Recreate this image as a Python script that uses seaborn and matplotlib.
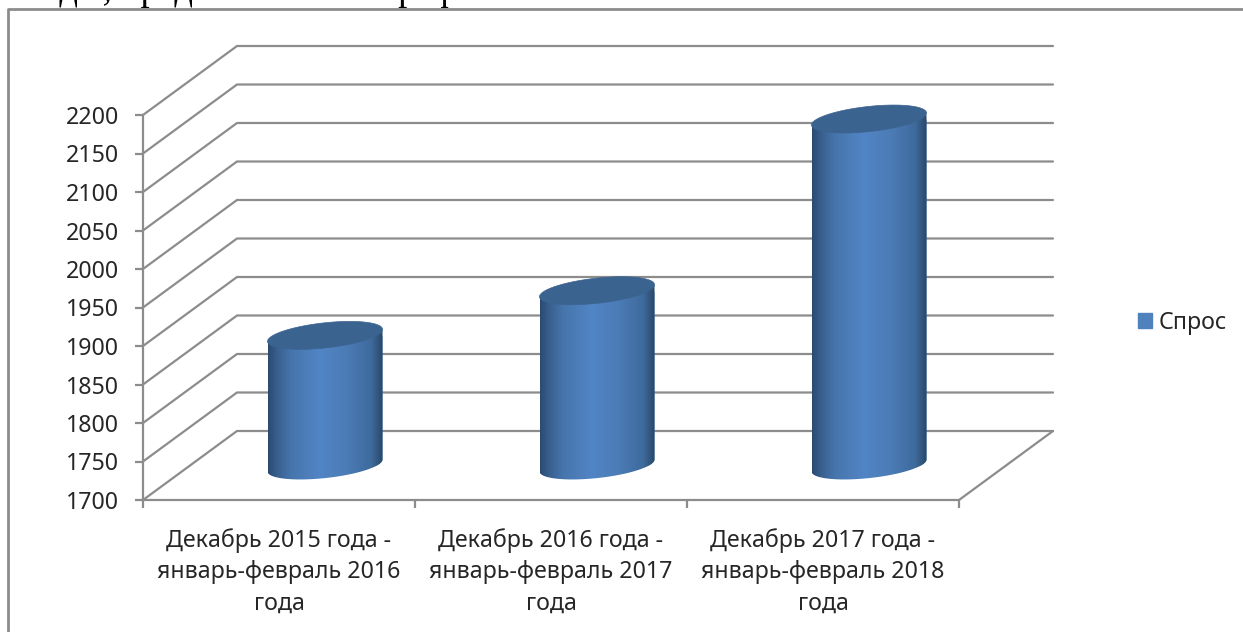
import numpy as np
import pandas as pd
import seaborn as sns
import matplotlib.pyplot as plt
from matplotlib.patches import Patch, PathPatch
from matplotlib.path import Path
from matplotlib.colors import LinearSegmentedColormap
from matplotlib.transforms import Affine2D

periods = ['Декабрь 2015 года -\nянварь-февраль 2016\nгода',
           'Декабрь 2016 года -\nянварь-февраль 2017\nгода',
           'Декабрь 2017 года -\nянварь-февраль 2018\nгода']
demand = [1869, 1927, 2150]
series_name = 'Спрос'
y_ticks = list(range(1700, 2201, 50))
# line of the document above the chart, only its descenders are on the page
cut_text = 'годы, представлена на графике'

GRID = '#8C8C8C'
TEXT = '#262626'
W, H = 1243, 632
# depth of the fake 3d box, in pixels
DX, DY = 94, 69

sns.set_theme(style='white')
plt.rcParams['font.family'] = ['Noto Sans', 'DejaVu Sans']

fig = plt.figure(figsize=(W / 100, H / 100), dpi=100)
ax = fig.add_axes([143 / W, 1 - 500 / H, 816 / W, 385 / H])

df = pd.DataFrame({'period': periods, 'demand': demand})
sns.barplot(data=df, x='period', y='demand', color='#4F81BD', width=115 / 272,
            saturation=1, ax=ax)
ax.set_xlim(-0.5, 2.5)
ax.set_ylim(y_ticks[0], y_ticks[-1])
ax.set_xlabel('')
ax.set_ylabel('')

sns.despine(ax=ax, top=True, right=True)
for s in ['left', 'bottom']:
    ax.spines[s].set_color(GRID)
    ax.spines[s].set_linewidth(1.6)

ax.set_yticks(y_ticks)
ax.tick_params(axis='y', length=5.8, width=1.6, color=GRID, labelsize=16.7,
               labelcolor=TEXT, pad=11.5, left=True)
ax.set_xticks([0, 1, 2], periods, linespacing=1.42)
ax.tick_params(axis='x', which='major', length=0, labelsize=16.7, labelcolor=TEXT, pad=20)
ax.set_xticks([-0.5, 0.5, 1.5, 2.5], minor=True)
ax.tick_params(axis='x', which='minor', length=6, width=1.6, color=GRID, bottom=True)

# walls and floor, in data units so they follow the axes
dx = DX / 272
dy = DY / 0.77
for v in y_ticks:
    ax.plot([-0.5, -0.5 + dx, 2.5 + dx], [v, v + dy, v + dy], color=GRID, lw=1.6,
            clip_on=False, zorder=1, solid_joinstyle='miter')
ax.plot([2.5, 2.5 + dx], [y_ticks[0], y_ticks[0] + dy], color=GRID, lw=1.6,
        clip_on=False, zorder=1)

# cylinders: middle of the depth, bar geometry comes from seaborn
cmap = LinearSegmentedColormap.from_list('cyl', [(0, '#2B4A70'), (0.08, '#38608F'),
                                                 (0.2, '#4675AC'), (0.45, '#5285C6'),
                                                 (0.7, '#4B7BB4'), (0.9, '#3E6A9C'),
                                                 (1, '#2A4767')])
to_px = ax.transData
t = np.linspace(0, 2 * np.pi, 121)
for bar, v in zip(ax.patches, demand):
    bar.set_y(y_ticks[0])
    bar.set_height(v - y_ticks[0])
    bar.set_transform(to_px + Affine2D().translate(DX / 2, DY / 2))
    bar.set_zorder(2)
    x0 = to_px.transform((bar.get_x(), v))[0] + DX / 2 - 1
    x1 = to_px.transform((bar.get_x() + bar.get_width(), v))[0] + DX / 2 - 1
    cx = (x0 + x1) / 2
    a = (x1 - x0) / 2
    ytop = to_px.transform((0, v))[1] + DY / 2
    ybot = to_px.transform((0, y_ticks[0]))[1] + DY / 2
    b, s = 12.6, 6.0
    ex = cx + a * np.cos(t)
    ey = b * np.sin(t) + s * np.cos(t)

    # body: straight sides plus the lower half of the bottom ellipse
    low = np.linspace(np.pi, 2 * np.pi, 60)
    body_x = np.r_[x0, cx + a * np.cos(low), x1]
    body_y = np.r_[ytop - s, ybot + b * np.sin(low) + s * np.cos(low), ytop + s]
    body = PathPatch(Path(np.c_[body_x, body_y]), fc='none', ec='none',
                     zorder=3, clip_on=False)
    body.set_transform(Affine2D())
    ax.add_patch(body)
    bar.set_clip_path(body)

    grad = np.linspace(0, 1, 256).reshape(1, -1)
    im = ax.imshow(grad, cmap=cmap, aspect='auto', zorder=3, interpolation='bilinear',
                   extent=(x0, x1, ybot - 20, ytop + 20), transform=Affine2D())
    im.set_clip_path(body)

    top = PathPatch(Path(np.c_[ex, ytop + ey]), fc='#3B6390', ec='#3B6390', lw=0.5,
                    zorder=4, clip_on=False)
    top.set_transform(Affine2D())
    ax.add_patch(top)

ax.set_xlim(-0.5, 2.5)
ax.set_ylim(y_ticks[0], y_ticks[-1])

handles = [Patch(color='#4F81BD', label=series_name)]
ax.legend(handles=handles, loc='center left', bbox_to_anchor=(1138 / W, 1 - 323 / H),
          bbox_transform=fig.transFigure, frameon=False, fontsize=16.7, handlelength=0.6,
          handleheight=0.6, handletextpad=0.3, labelcolor=TEXT, borderpad=0, borderaxespad=0)

fig.text(28 / W, 1, cut_text, family='Liberation Serif', fontsize=26.4, color='black',
         va='baseline', ha='left')

# outer frame of the pasted chart
fig.add_artist(plt.Line2D([8 / W, 8 / W, 1], [0, 1 - 9 / H, 1 - 9 / H], color='#8C8C8C', lw=2))

plt.savefig('out.png', dpi=100, facecolor='white')
